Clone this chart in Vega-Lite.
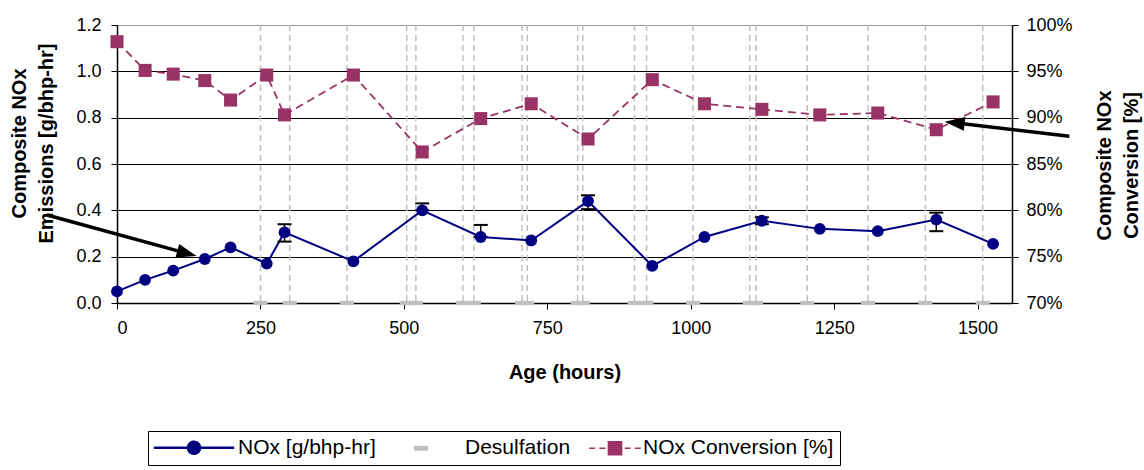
{
  "$schema": "https://vega.github.io/schema/vega-lite/v6.json",
  "width": 895,
  "height": 278,
  "autosize": {"type": "none"},
  "padding": {"left": 117, "top": 25, "right": 132, "bottom": 167},
  "config": {"view": {"stroke": null}, "font": "Liberation Sans"},
  "datasets": {
    "emis": [
      {"hours": 0, "nox": 0.05, "conversion": 0.982},
      {"hours": 49, "nox": 0.10, "conversion": 0.951},
      {"hours": 98, "nox": 0.14, "conversion": 0.947},
      {"hours": 153, "nox": 0.19, "conversion": 0.940},
      {"hours": 198, "nox": 0.24, "conversion": 0.919},
      {"hours": 261, "nox": 0.17, "conversion": 0.946},
      {"hours": 292, "nox": 0.305, "conversion": 0.903, "lo": 0.265, "hi": 0.34},
      {"hours": 412, "nox": 0.18, "conversion": 0.946},
      {"hours": 532, "nox": 0.40, "conversion": 0.863, "lo": 0.40, "hi": 0.43},
      {"hours": 634, "nox": 0.285, "conversion": 0.899, "lo": 0.285, "hi": 0.337},
      {"hours": 722, "nox": 0.27, "conversion": 0.915},
      {"hours": 821, "nox": 0.44, "conversion": 0.877, "lo": 0.405, "hi": 0.465},
      {"hours": 933, "nox": 0.16, "conversion": 0.941},
      {"hours": 1024, "nox": 0.285, "conversion": 0.915},
      {"hours": 1124, "nox": 0.355, "conversion": 0.909, "lo": 0.34, "hi": 0.37},
      {"hours": 1225, "nox": 0.32, "conversion": 0.903},
      {"hours": 1326, "nox": 0.31, "conversion": 0.905},
      {"hours": 1428, "nox": 0.36, "conversion": 0.887, "lo": 0.31, "hi": 0.39},
      {"hours": 1527, "nox": 0.255, "conversion": 0.917}
    ],
    "desulf": [
      {"hours": 250}, {"hours": 301}, {"hours": 401}, {"hours": 505}, {"hours": 521},
      {"hours": 603}, {"hours": 622}, {"hours": 706}, {"hours": 715}, {"hours": 803},
      {"hours": 812}, {"hours": 902}, {"hours": 923}, {"hours": 1004}, {"hours": 1103},
      {"hours": 1114}, {"hours": 1203}, {"hours": 1309}, {"hours": 1409}, {"hours": 1509}
    ],
    "arrowNox": [{"hours": -122, "value": 0.38, "hours2": 122, "value2": 0.214}],
    "arrowConv": [{"hours": 1660, "value": 0.880, "hours2": 1460, "value2": 0.8945}]
  },
  "encoding": {
    "x": {
      "field": "hours", "type": "quantitative",
      "scale": {"domain": [0, 1560], "nice": false},
      "axis": {
        "title": "Age (hours)", "values": [0, 250, 500, 750, 1000, 1250, 1500], "format": "d",
        "grid": false, "tickSize": 6, "tickColor": "#000", "domainColor": "#000", "domainWidth": 1.5,
        "labelPadding": 10, "labelFontSize": 18, "labelColor": "#000",
        "titleFontSize": 20, "titleFontWeight": "bold", "titleColor": "#000",
        "titleY": 75, "titleBaseline": "alphabetic"
      }
    }
  },
  "layer": [
    {
      "layer": [
        {
          "data": {"name": "desulf"},
          "mark": {"type": "rule", "strokeDash": [6, 4], "strokeWidth": 1.5},
          "encoding": {
            "color": {
              "datum": "Desulfation", "type": "nominal",
              "scale": {"domain": ["NOx [g/bhp-hr]", "Desulfation", "NOx Conversion [%]"], "range": ["#000080", "#c0c0c0", "#993366"]},
              "legend": {
                "title": null, "orient": "none", "legendX": 31, "legendY": 406, "direction": "horizontal",
                "strokeColor": "#000000", "fillColor": "#ffffff", "padding": 6,
                "labelFontSize": 21, "labelFont": "Liberation Sans", "labelColor": "#000", "labelLimit": 400,
                "symbolSize": 144, "columnPadding": 4,
                "encode": {
                  "symbols": {"update": {
                    "shape": {"signal": "datum.value === 'Desulfation' ? 'M-6.7,0M6.7,0M-1.2,-0.4H1.2V0.4H-1.2Z' : datum.value === 'NOx [g/bhp-hr]' ? 'M-6.7,0H6.7M-1,0A1,1 0 1,0 1,0A1,1 0 1,0 -1,0Z' : 'M-4.3,0H-3.3M-2.6,0H-1.6M1.6,0H2.6M3.3,0H4.3M-1.1,-1.1H1.1V1.1H-1.1Z'"},
                    "fill": {"signal": "datum.value === 'Desulfation' ? '#c0c0c0' : datum.value === 'NOx [g/bhp-hr]' ? '#000080' : '#993366'"},
                    "stroke": {"signal": "datum.value === 'Desulfation' ? '#c0c0c0' : datum.value === 'NOx [g/bhp-hr]' ? '#000080' : '#993366'"},
                    "strokeWidth": {"signal": "datum.value === 'Desulfation' ? 0 : datum.value === 'NOx [g/bhp-hr]' ? 2.5 : 1.5"},
                    "strokeDash": {"value": [1, 0]},
                    "opacity": {"value": 1},
                    "size": {"value": 144},
                    "x": {"value": 40}
                  }},
                  "labels": {"update": {"x": {"signal": "datum.value === 'NOx Conversion [%]' ? 68 : 84"}}}
                }
              }
            }
          }
        },
        {
          "data": {"name": "desulf"},
          "mark": {"type": "point", "shape": "M-1,-0.3H1V0.3H-1Z", "size": 196, "filled": true, "color": "#c0c0c0", "opacity": 1, "strokeWidth": 0},
          "encoding": {
            "y": {
              "datum": 0, "type": "quantitative",
              "scale": {"domain": [0, 1.2], "nice": false},
              "axis": {
                "title": ["Composite NOx", "Emissions [g/bhp-hr]"],
                "values": [0, 0.2, 0.4, 0.6, 0.8, 1, 1.2], "format": ".1f",
                "grid": true, "gridColor": {"condition": {"test": "datum.value > 1.19", "value": "#999999"}, "value": "#000000"}, "gridWidth": 1,
                "tickSize": 6, "tickColor": "#000", "domainColor": "#000", "domainWidth": 1.5,
                "labelPadding": 10, "labelFontSize": 18, "labelColor": "#000",
                "titleFontSize": 20, "titleFontWeight": "bold", "titleColor": "#000",
                "titleAngle": 270, "titleX": -92, "titleY": 118, "titleAlign": "center", "titleBaseline": "alphabetic", "titleLineHeight": 27
              }
            }
          }
        }
      ]
    },
    {
      "layer": [
        {
          "data": {"name": "emis"},
          "mark": {"type": "line", "strokeDash": [8, 5], "strokeWidth": 1.8},
          "encoding": {
            "y": {
              "field": "conversion", "type": "quantitative",
              "scale": {"domain": [0.7, 1.0], "nice": false, "zero": false},
              "axis": {
                "orient": "right", "title": ["Composite NOx", "Conversion [%]"],
                "values": [0.7, 0.75, 0.8, 0.85, 0.9, 0.95, 1], "format": ".0%", "grid": false,
                "tickSize": 6, "tickColor": "#000", "domainColor": "#000", "domainWidth": 1.5,
                "labelPadding": 8, "labelFontSize": 18, "labelColor": "#000",
                "titleFontSize": 20, "titleFontWeight": "bold", "titleColor": "#000",
                "titleAngle": 270, "titleX": 98, "titleY": 140, "titleAlign": "center", "titleBaseline": "alphabetic", "titleLineHeight": 27
              }
            },
            "color": {"datum": "NOx Conversion [%]", "type": "nominal"}
          }
        },
        {
          "data": {"name": "emis"},
          "mark": {"type": "point", "shape": "square", "filled": true, "size": 170, "color": "#993366", "opacity": 1},
          "encoding": {"y": {"field": "conversion", "type": "quantitative"}}
        },
        {
          "data": {"name": "arrowConv"},
          "mark": {"type": "rule", "color": "#000", "strokeWidth": 3.5},
          "encoding": {"x2": {"field": "hours2"}, "y": {"field": "value", "type": "quantitative"}, "y2": {"field": "value2"}}
        },
        {
          "data": {"name": "arrowConv"},
          "mark": {"type": "point", "shape": "M1,0L-1,-0.7L-1,0.7Z", "size": 400, "filled": true, "color": "#000", "opacity": 1, "angle": 186.5},
          "encoding": {"x": {"field": "hours2", "type": "quantitative"}, "y": {"field": "value2", "type": "quantitative"}}
        }
      ]
    },
    {
      "layer": [
        {
          "data": {"name": "emis"},
          "mark": {"type": "line", "strokeWidth": 2},
          "encoding": {
            "y": {"field": "nox", "type": "quantitative", "scale": {"domain": [0, 1.2], "nice": false}, "axis": null},
            "color": {"datum": "NOx [g/bhp-hr]", "type": "nominal"}
          }
        },
        {
          "data": {"name": "emis"},
          "transform": [{"filter": "isValid(datum.hi)"}],
          "mark": {"type": "rule", "color": "#000", "strokeWidth": 1.5},
          "encoding": {"y": {"field": "lo", "type": "quantitative", "axis": null}, "y2": {"field": "hi"}}
        },
        {
          "data": {"name": "emis"},
          "transform": [{"filter": "isValid(datum.hi)"}],
          "mark": {"type": "point", "shape": "M-1,0H1", "size": 196, "filled": false, "color": "#000", "strokeWidth": 2, "opacity": 1},
          "encoding": {"y": {"field": "lo", "type": "quantitative", "axis": null}}
        },
        {
          "data": {"name": "emis"},
          "transform": [{"filter": "isValid(datum.hi)"}],
          "mark": {"type": "point", "shape": "M-1,0H1", "size": 196, "filled": false, "color": "#000", "strokeWidth": 2, "opacity": 1},
          "encoding": {"y": {"field": "hi", "type": "quantitative", "axis": null}}
        },
        {
          "data": {"name": "emis"},
          "mark": {"type": "point", "shape": "circle", "filled": true, "size": 140, "color": "#000080", "opacity": 1},
          "encoding": {"y": {"field": "nox", "type": "quantitative", "axis": null}}
        },
        {
          "data": {"name": "arrowNox"},
          "mark": {"type": "rule", "color": "#000", "strokeWidth": 3.5},
          "encoding": {"x2": {"field": "hours2"}, "y": {"field": "value", "type": "quantitative", "axis": null}, "y2": {"field": "value2"}}
        },
        {
          "data": {"name": "arrowNox"},
          "mark": {"type": "point", "shape": "M1,0L-1,-0.7L-1,0.7Z", "size": 400, "filled": true, "color": "#000", "opacity": 1, "angle": 15.3},
          "encoding": {"x": {"field": "hours2", "type": "quantitative"}, "y": {"field": "value2", "type": "quantitative", "axis": null}}
        }
      ]
    }
  ],
  "resolve": {"scale": {"y": "independent"}}
}
